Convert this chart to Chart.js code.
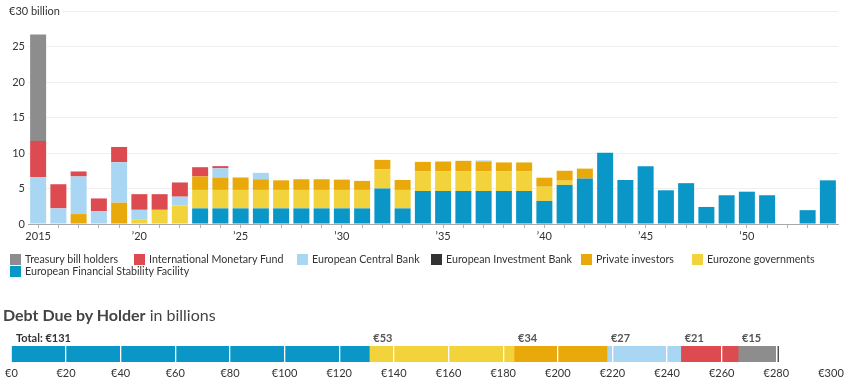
<!DOCTYPE html>
<html><head><meta charset="utf-8">
<script src="https://cdn.jsdelivr.net/npm/chart.js@4.4.1/dist/chart.umd.min.js"></script>
<style>
html,body{margin:0;padding:0;background:#fff;}
body{width:850px;height:385px;position:relative;overflow:hidden;font-family:Lato,"Open Sans",sans-serif;color:#333;}
#top{position:absolute;left:0;top:0;width:850px;height:244px;}
#legend{position:absolute;left:0;top:0;width:850px;height:385px;font-size:10.7px;line-height:12.5px;color:#333;pointer-events:none;}
.item{position:absolute;display:flex;align-items:center;white-space:nowrap;}
.box{width:11px;height:11px;margin-right:4px;flex:none;}
#title{position:absolute;left:3px;top:305px;font-size:16px;line-height:19px;color:#444;white-space:nowrap;}
#title b{font-weight:700;}
#bot{position:absolute;left:0;top:325px;width:850px;height:60px;}
</style></head>
<body>
<div id="top"><canvas id="c1"></canvas></div>
<div id="legend"></div>
<div id="title"><b>Debt Due by Holder</b> in billions</div>
<div id="bot"><canvas id="c2"></canvas></div>
<script>
// ---------- DATA ----------
const years = [2015,2016,2017,2018,2019,2020,2021,2022,2023,2024,
               2025,2026,2027,2028,2029,2030,2031,2032,2033,2034,
               2035,2036,2037,2038,2039,2040,2041,2042,2043,2044,
               2045,2046,2047,2048,2049,2050,2051,2052,2053,2054];

// € billions due each year, by holder
const efsf      = [0,0,0,0,0,0,0,0,2.2,2.2, 2.2,2.2,2.2,2.2,2.2,2.2,2.2,5.0,2.2,4.65, 4.65,4.65,4.65,4.65,4.65,3.25,5.5,6.4,10.05,6.2, 8.15,4.75,5.75,2.4,4.05,4.55,4.05,0,1.95,6.15];
const eurozone  = [0,0,0,0,0,0.6,2.0,2.6,2.6,2.6, 2.6,2.6,2.6,2.6,2.6,2.6,2.6,2.73,2.6,2.75, 2.75,2.75,2.75,2.75,2.75,2.0,0.6,0,0,0, 0,0,0,0,0,0,0,0,0,0];
const privateInv= [0,0,1.4,0,3.0,0,0,0,1.9,1.75, 1.75,1.5,1.35,1.5,1.5,1.45,1.27,1.3,1.4,1.35, 1.4,1.5,1.4,1.27,1.27,1.27,1.4,1.4,0,0, 0,0,0,0,0,0,0,0,0,0];
const eib       = [0,0,0,0,0,0,0,0,0,0, 0,0,0,0,0,0,0,0,0,0, 0,0,0,0,0,0,0,0,0,0, 0,0,0,0,0,0,0,0,0,0];
const ecb       = [6.6,2.2,5.3,1.8,5.7,1.4,0,1.25,0,1.3, 0,0.9,0,0,0,0,0,0,0,0, 0,0,0.15,0,0,0,0,0,0,0, 0,0,0,0,0,0,0,0,0,0];
const imf       = [5.1,3.4,0.7,1.8,2.15,2.2,2.2,2.0,1.3,0.3, 0,0,0,0,0,0,0,0,0,0, 0,0,0,0,0,0,0,0,0,0, 0,0,0,0,0,0,0,0,0,0];
const tbills    = [15.0,0,0,0,0,0,0,0,0,0, 0,0,0,0,0,0,0,0,0,0, 0,0,0,0,0,0,0,0,0,0, 0,0,0,0,0,0,0,0,0,0];

const xTickYears = [2015,2020,2025,2030,2035,2040,2045,2050];
const xTickText  = ['2015','\u201920','\u201925','\u201930','\u201935','\u201940','\u201945','\u201950'];
const yTicks     = [0,5,10,15,20,25];
const yTopLabel  = '\u20ac30 billion';

// Totals by holder (bottom bar), in stacking order
const holderNames  = ['European Financial Stability Facility','Eurozone governments','Private investors','European Central Bank','International Monetary Fund','Treasury bill holders','European Investment Bank'];
const holderTotals = [131,53,34,27,21,14.5,0.3];
const bottomTicks  = [0,20,40,60,80,100,120,140,160,180,200,220,240,260,280,300];

// ---------- STYLE ----------
const colors = {
  'Treasury bill holders':'#8d8d8d',
  'International Monetary Fund':'#dd4a50',
  'European Central Bank':'#a9d6f3',
  'European Investment Bank':'#333333',
  'Private investors':'#e9a90a',
  'Eurozone governments':'#f3d33c',
  'European Financial Stability Facility':'#0a96c7'
};
const FONT = 'Lato';

// stack bottom -> top
const stack = [
  ['European Financial Stability Facility', efsf],
  ['Eurozone governments', eurozone],
  ['Private investors', privateInv],
  ['European Investment Bank', eib],
  ['European Central Bank', ecb],
  ['International Monetary Fund', imf],
  ['Treasury bill holders', tbills]
];
const legendOrder = ['Treasury bill holders','International Monetary Fund','European Central Bank','European Investment Bank','Private investors','Eurozone governments','European Financial Stability Facility'];
// legend item placement (layout only)
const legendPos = [[10,253],[134,253],[297,253],[431,253],[581,253],[692,253],[10,265]];

const topLabelPlugin = {
  id:'topLabel',
  afterDraw(chart){
    const y = chart.scales.y.getPixelForValue(30);
    const ctx = chart.ctx;
    ctx.save();
    ctx.font = '11px ' + FONT;
    const w = ctx.measureText(yTopLabel).width;
    ctx.fillStyle = '#fff';
    ctx.fillRect(8, y-6, w+4, 12);
    ctx.fillStyle = '#333';
    ctx.textAlign = 'left';
    ctx.textBaseline = 'middle';
    ctx.fillText(yTopLabel, 9, y);
    ctx.restore();
  }
};

const chart1 = new Chart(document.getElementById('c1'), {
  type:'bar',
  data:{
    labels: years,
    datasets: stack.map(([name,arr]) => ({
      label:name, data:arr, backgroundColor:colors[name], borderWidth:0,
      barPercentage:0.79, categoryPercentage:1
    }))
  },
  options:{
    responsive:true, maintainAspectRatio:false, animation:false,
    layout:{padding:{left:0,right:12,top:11,bottom:0}},
    plugins:{legend:{display:false}, tooltip:{enabled:false}},
    scales:{
      x:{
        stacked:true,
        grid:{display:true, drawOnChartArea:false, drawTicks:true, tickLength:4, offset:false, color:'#b5b5b5'},
        border:{display:true, color:'#a8a8a8'},
        ticks:{autoSkip:false, maxRotation:0, padding:2, color:'#333', font:{family:FONT,size:11},
          callback:function(v,i){ const k = xTickYears.indexOf(years[i]); return k>=0 ? xTickText[k] : ''; }},
        afterFit:s=>{ s.height = 20; }
      },
      y:{
        stacked:true, min:0, max:30,
        afterBuildTicks:s=>{ s.ticks = yTicks.concat([30]).map(v=>({value:v})); },
        ticks:{padding:3, color:'#333', font:{family:FONT,size:11}, callback:v=> (yTicks.includes(v) ? String(v) : '')},
        grid:{color:'#efefef', drawTicks:false},
        border:{display:false},
        afterFit:s=>{ s.width = 28; }
      }
    }
  },
  plugins:[topLabelPlugin]
});

// HTML legend
const leg = document.getElementById('legend');
legendOrder.forEach((name,i)=>{
  const it = document.createElement('div'); it.className='item';
  it.style.left = legendPos[i][0]+'px'; it.style.top = legendPos[i][1]+'px';
  const b = document.createElement('span'); b.className='box'; b.style.background = colors[name];
  const t = document.createElement('span'); t.textContent = name;
  it.appendChild(b); it.appendChild(t); leg.appendChild(it);
});

const segLabelPlugin = {
  id:'segLabels',
  afterDatasetsDraw(chart){
    const ctx = chart.ctx;
    ctx.save();
    ctx.textAlign='left'; ctx.textBaseline='middle';
    chart.data.datasets.forEach((ds,i)=>{
      const v = ds.data[0];
      if (v < 1) return;
      const el = chart.getDatasetMeta(i).data[0];
      const x0 = Math.min(el.base, el.x);
      const txt = (i===0 ? 'Total: ' : '') + '\u20ac' + Math.round(v);
      ctx.font = 'bold 11px ' + FONT;
      ctx.fillStyle = i===0 ? '#333' : '#555';
      ctx.fillText(txt, x0 + 4, chart.chartArea.top - 8);
    });
    ctx.restore();
  }
};

const chart2 = new Chart(document.getElementById('c2'), {
  type:'bar',
  data:{
    labels:['Total'],
    datasets: holderNames.map((n,i)=>({
      label:n, data:[holderTotals[i]], backgroundColor:colors[n], borderWidth:0,
      barPercentage:1, categoryPercentage:1
    }))
  },
  options:{
    indexAxis:'y', responsive:true, maintainAspectRatio:false, animation:false,
    layout:{padding:{left:9,right:19,top:21,bottom:0}},
    plugins:{legend:{display:false}, tooltip:{enabled:false}},
    scales:{
      x:{
        stacked:true, min:0, max:300,
        afterBuildTicks:s=>{ s.ticks = bottomTicks.map(v=>({value:v})); },
        ticks:{padding:5, color:'#333', font:{family:FONT,size:11}, callback:v=>'\u20ac'+v},
        grid:{color:ctx=> (ctx.tick && (ctx.tick.value===0 || ctx.tick.value===300)) ? 'rgba(0,0,0,0)' : '#ffffff', lineWidth:1.3, z:1, drawTicks:false},
        border:{display:false},
        afterFit:s=>{ s.height = 23; }
      },
      y:{stacked:true, display:false}
    }
  },
  plugins:[segLabelPlugin]
});
</script>
</body></html>
